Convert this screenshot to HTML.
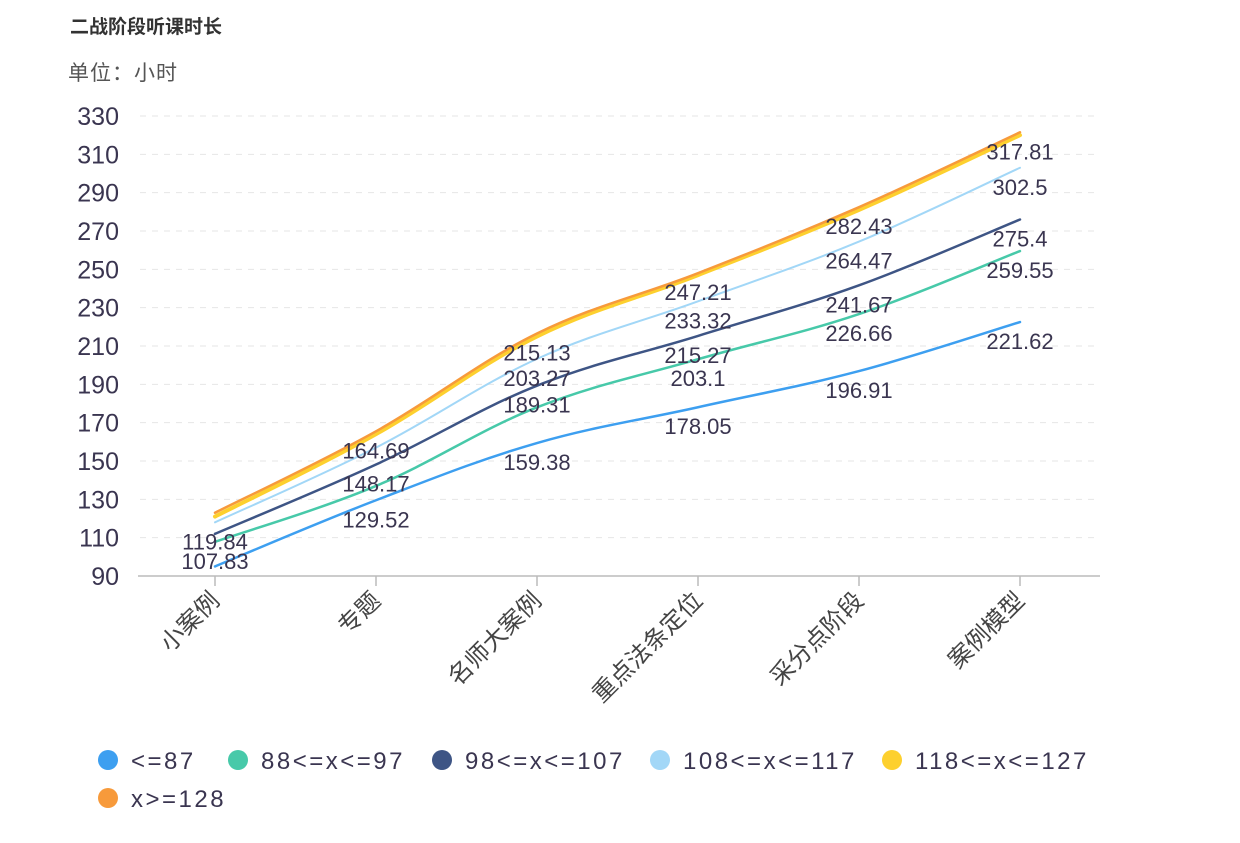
<!DOCTYPE html>
<html><head><meta charset="utf-8">
<style>
body{margin:0;background:#fff;font-family:"Liberation Sans","Noto Sans CJK SC",sans-serif;}
svg text{font-family:"Liberation Sans","Noto Sans CJK SC",sans-serif;}
</style></head>
<body>
<svg id="chart" width="1240" height="838" xmlns="http://www.w3.org/2000/svg">
<rect width="1240" height="838" fill="#fff"/>
<text x="70" y="33" font-size="19" font-weight="bold" fill="#333">二战阶段听课时长</text>
<text x="68" y="80" font-size="21" fill="#555" letter-spacing="1">单位：小时</text>
<g id="grid"></g><g id="axes"></g><g id="lines"></g><g id="labels"></g><g id="legend"></g>
</svg>
<script>
const categories = ["小案例","专题","名师大案例","重点法条定位","采分点阶段","案例模型"];
const yTicks = [90,110,130,150,170,190,210,230,250,270,290,310,330];
const seriesNames = ["<=87","88<=x<=97","98<=x<=107","108<=x<=117","118<=x<=127","x>=128"];
const s1 = [95, 129.52, 159.38, 178.05, 196.91, 222.5];
const s2 = [107.83, 137, 178, 203.1, 226.66, 259.55];
const s3 = [112, 148.17, 189.31, 215.27, 241.67, 276];
const s4 = [118, 157, 203.27, 233.32, 264.47, 303];
const s5 = [121, 164, 215, 247, 281, 320];
const s6 = [123, 165.5, 216.5, 248, 282.43, 321.5];
const l1 = [null,"129.52","159.38","178.05","196.91","221.62"];
const l2 = ["107.83",null,null,"203.1","226.66","259.55"];
const l3 = [null,"148.17","189.31","215.27","241.67","275.4"];
const l4 = ["119.84",null,"203.27","233.32","264.47","302.5"];
const l5 = [null,null,null,null,null,null];
const l6 = [null,"164.69","215.13","247.21","282.43","317.81"];
const colors = ["#3d9ff0","#47c9a9","#3e5585","#a2d7f7","#fdd02e","#f79a3b"];
const widths = [2.5,2.5,2.5,2,4,2.5];

const NS="http://www.w3.org/2000/svg";
const yMin=90,yMax=330,yTop=116,yBot=576;
const xFirst=215,xStep=161;
function xs(i){return xFirst+i*xStep;}
function ys(v){return yBot-(v-yMin)/(yMax-yMin)*(yBot-yTop);}
function mk(tag,attrs,parent){const e=document.createElementNS(NS,tag);for(const k in attrs)e.setAttribute(k,attrs[k]);parent.appendChild(e);return e;}

const grid=document.getElementById('grid'),axes=document.getElementById('axes'),linesG=document.getElementById('lines'),labG=document.getElementById('labels'),leg=document.getElementById('legend');
yTicks.forEach(t=>{
  if(t!==yMin){const g=mk('line',{x1:140,x2:1100,y1:ys(t),y2:ys(t),stroke:'#e6e6e6','stroke-dasharray':'6,6'},grid);
  
  }
  const tx=mk('text',{x:119,y:ys(t)+9,'font-size':25,fill:'#3a3550','text-anchor':'end'},axes);
  tx.textContent=t;
  
  
});
const ax=mk('line',{x1:138,x2:1100,y1:yBot,y2:yBot,stroke:'#bbb','stroke-width':1.5},axes);


categories.forEach((c,i)=>{
  const tk=mk('line',{x1:xs(i),x2:xs(i),y1:yBot,y2:yBot+10,stroke:'#bbb','stroke-width':1.5},axes);
  
  
  const t=mk('text',{x:xs(i)+6,y:yBot+26,'font-size':24,fill:'#444','text-anchor':'end',transform:`rotate(-45 ${xs(i)+6} ${yBot+26})`},axes);
  t.textContent=c;
  
  
});
function path(vals){
  const p=vals.map((v,i)=>[xs(i),ys(v)]);
  let d=`M${p[0][0]},${p[0][1]}`;
  for(let i=0;i<p.length-1;i++){
    const p0=p[Math.max(0,i-1)],p1=p[i],p2=p[i+1],p3=p[Math.min(p.length-1,i+2)];
    const k=0.18;
    d+=` C${p1[0]+(p2[0]-p0[0])*k},${p1[1]+(p2[1]-p0[1])*k} ${p2[0]-(p3[0]-p1[0])*k},${p2[1]-(p3[1]-p1[1])*k} ${p2[0]},${p2[1]}`;
  }
  return d;
}
const all=[s1,s2,s3,s4,s5,s6],labs=[l1,l2,l3,l4,l5,l6];
all.forEach((s,si)=>{
  const pa=mk('path',{d:path(s),fill:'none',stroke:colors[si],'stroke-width':widths[si],'stroke-linecap':'round'},linesG);
  
  
});
labs.forEach((ls,si)=>{
  ls.forEach((l,i)=>{
    if(l===null)return;
    const t=mk('text',{x:xs(i),y:ys(all[si][i])+27,'font-size':22,fill:'#3a3550','text-anchor':'middle'},labG);
    t.textContent=l;
    
    
  });
});
const legPos=[[108,760],[238,760],[442,760],[660,760],[892,760],[108,798]];
seriesNames.forEach((n,i)=>{
  const g=mk('g',{},leg);
  
  
  mk('circle',{cx:legPos[i][0],cy:legPos[i][1],r:10,fill:colors[i]},g);
  const t=mk('text',{x:legPos[i][0]+23,y:legPos[i][1]+9,'font-size':24,fill:'#3a3550','letter-spacing':'2.5'},g);
  t.textContent=n;
});
</script>
</body></html>
